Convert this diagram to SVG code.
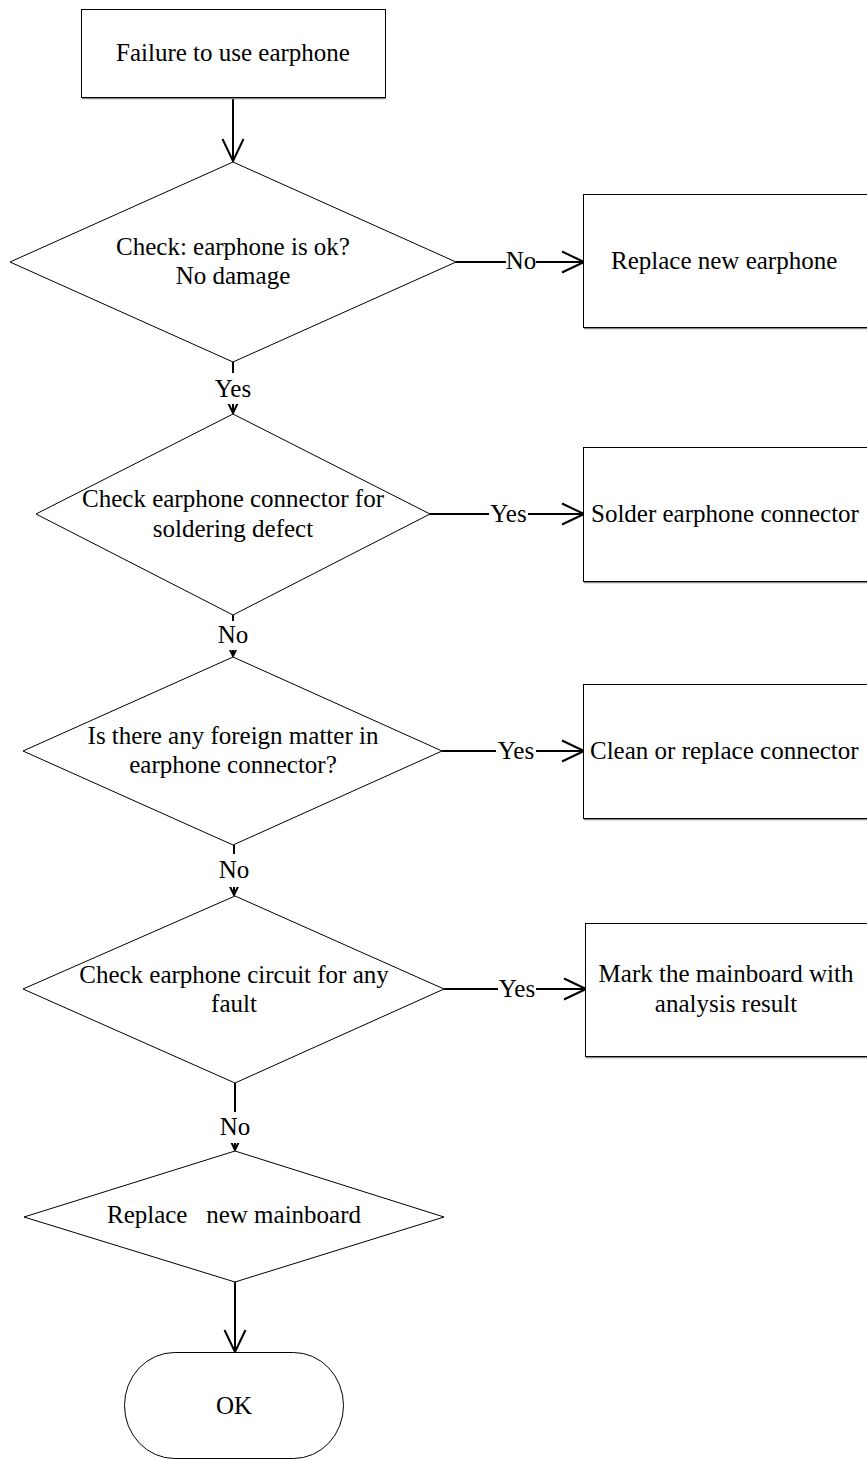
<svg xmlns="http://www.w3.org/2000/svg" width="867" height="1461" viewBox="0 0 867 1461">
<style>
  .shape{fill:#fff;stroke:#000;stroke-width:1}
  .shadow{stroke:#8a8a8a;stroke-width:1.2;fill:none}
  .t{font-family:"Liberation Serif","Times New Roman",serif;font-size:25px;fill:#000}
  .c{text-anchor:middle}
  .conn{fill:none;stroke:#000;stroke-width:2}
  .lblbg{fill:#fff;stroke:none}
</style>
<defs>
  <marker id="arr" markerUnits="userSpaceOnUse" viewBox="-25 -13 27 26" markerWidth="27" markerHeight="26" refX="0" refY="0" orient="auto">
    <path d="M-22,-10.5 L0,0 L-22,10.5" fill="none" stroke="#000" stroke-width="2"/>
  </marker>
</defs>
<rect width="867" height="1461" fill="#fff"/>

<g id="connectors">
  <path class="conn" d="M233,98 L233,161" marker-end="url(#arr)"/>
  <path class="conn" d="M233,362 L233,413" marker-end="url(#arr)"/>
  <path class="conn" d="M233,615 L233,656" marker-end="url(#arr)"/>
  <path class="conn" d="M234,845 L234,895" marker-end="url(#arr)"/>
  <path class="conn" d="M235,1083 L235,1150" marker-end="url(#arr)"/>
  <path class="conn" d="M235,1282 L235,1352" marker-end="url(#arr)"/>
  <path class="conn" d="M456,262 L584,262" marker-end="url(#arr)"/>
  <path class="conn" d="M430,514 L584,514" marker-end="url(#arr)"/>
  <path class="conn" d="M442,751 L584,751" marker-end="url(#arr)"/>
  <path class="conn" d="M444,989 L586,989" marker-end="url(#arr)"/>
  <g id="labels">
    <rect class="lblbg" x="213" y="373" width="40" height="31"/>
    <text class="t c" x="233" y="397">Yes</text>
    <rect class="lblbg" x="216" y="621" width="34" height="29"/>
    <text class="t c" x="233" y="643">No</text>
    <rect class="lblbg" x="217" y="854" width="34" height="33"/>
    <text class="t c" x="234" y="878">No</text>
    <rect class="lblbg" x="218" y="1112" width="34" height="31"/>
    <text class="t c" x="235" y="1135">No</text>
    <rect class="lblbg" x="506" y="255" width="30" height="14"/>
    <text class="t c" x="521" y="269">No</text>
    <rect class="lblbg" x="489" y="507" width="39" height="14"/>
    <text class="t c" x="508.5" y="522">Yes</text>
    <rect class="lblbg" x="496" y="744" width="40" height="14"/>
    <text class="t c" x="516" y="759">Yes</text>
    <rect class="lblbg" x="498" y="982" width="38" height="14"/>
    <text class="t c" x="517" y="997">Yes</text>
  </g>
</g>

<g id="start">
  <rect class="shape" x="81.5" y="9.5" width="304" height="88"/>
  <line class="shadow" x1="82" y1="98.6" x2="386" y2="98.6"/>
  <text class="t c" x="233" y="61">Failure to use earphone</text>
</g>

<g id="check-earphone">
  <polygon class="shape" points="233,162 456,262 233,362 10,262"/>
  <text class="t c" x="233" y="255">Check: earphone is ok?</text>
  <text class="t c" x="233" y="284">No damage</text>
</g>

<g id="replace-earphone">
  <rect class="shape" x="583.5" y="194.5" width="300" height="133"/>
  <line class="shadow" x1="584" y1="328.6" x2="867" y2="328.6"/>
  <text class="t" x="611" y="269">Replace new earphone</text>
</g>

<g id="check-soldering">
  <polygon class="shape" points="233,414 430,514 233,615 36,514"/>
  <text class="t c" x="233" y="507">Check earphone connector for</text>
  <text class="t c" x="233" y="537">soldering defect</text>
</g>

<g id="solder-connector">
  <rect class="shape" x="583.5" y="447.5" width="300" height="134"/>
  <line class="shadow" x1="584" y1="582.6" x2="867" y2="582.6"/>
  <text class="t" x="591" y="522">Solder earphone connector</text>
</g>

<g id="check-foreign-matter">
  <polygon class="shape" points="233,657 442,751 233,845 23,751"/>
  <text class="t c" x="233" y="744">Is there any foreign matter in</text>
  <text class="t c" x="233" y="773">earphone connector?</text>
</g>

<g id="clean-connector">
  <rect class="shape" x="583.5" y="684.5" width="300" height="134"/>
  <line class="shadow" x1="584" y1="819.6" x2="867" y2="819.6"/>
  <text class="t" x="590" y="759">Clean or replace connector</text>
</g>

<g id="check-circuit">
  <polygon class="shape" points="235,896 444,989 235,1083 23,989"/>
  <text class="t c" x="234" y="983">Check earphone circuit for any</text>
  <text class="t c" x="234" y="1012">fault</text>
</g>

<g id="mark-mainboard">
  <rect class="shape" x="585.5" y="923.5" width="300" height="133"/>
  <line class="shadow" x1="586" y1="1057.6" x2="867" y2="1057.6"/>
  <text class="t c" x="726" y="982">Mark the mainboard with</text>
  <text class="t c" x="726" y="1012">analysis result</text>
</g>

<g id="replace-mainboard">
  <polygon class="shape" points="235,1151 444,1217 235,1282 24,1217"/>
  <text class="t c" x="234" y="1223" xml:space="preserve" style="white-space:pre">Replace   new mainboard</text>
</g>

<g id="ok">
  <rect class="shape" x="124.5" y="1352.5" width="219" height="106" rx="50" ry="53"/>
  <text class="t c" x="234" y="1414">OK</text>
</g>
</svg>
